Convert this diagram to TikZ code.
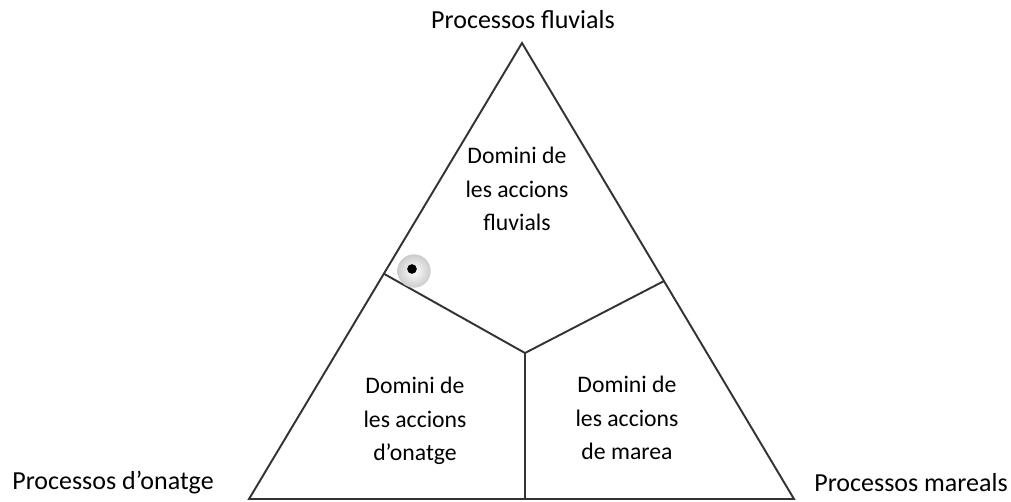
\documentclass[tikz,border=0pt]{standalone}
\usepackage{fontspec}
\setmainfont{Carlito}
\usepackage{tikz}
\usetikzlibrary{calc,positioning}

\begin{document}
\begin{tikzpicture}[x=0.02cm,y=-0.02cm,
  edge/.style={draw=black!80,line width=1.1pt},
  lbl/.style={font=\fontsize{14.8}{18.7}\selectfont,align=center,inner sep=0pt},
  dom/.style={font=\fontsize{13.5}{19}\selectfont,align=center,inner sep=0pt}]
\useasboundingbox (0,0) rectangle (1011,501);
\coordinate (top) at (522,43);
\coordinate (left) at (249,499);
\coordinate (right) at (794,499);
\coordinate (mid) at (525,353);
\coordinate (jl) at ($(top)!0.506!(left)$);
\coordinate (jr) at ($(top)!0.522!(right)$);
\coordinate (jb) at (525,499);
\draw[edge] (top) -- (left) -- (right) -- cycle;
\draw[edge] (jl) -- (mid) -- (jr);
\draw[edge] (mid) -- (jb);
% etiquetes
\node[lbl] (pfluv) at (523,20) {Processos fluvials};
\node[lbl] (pona) at (113,483) {Processos d’onatge};
\node[lbl] (pmar) at (911,483) {Processos mareals};
\node[dom] (dfluv) at (517,189) {Domini de\\les accions\\fluvials};
\node[dom] (dona) at (415,421) {Domini de\\les accions\\d’onatge};
\node[dom] (dmar) at (627,418) {Domini de\\les accions\\de marea};
% punt
\node[circle,inner color=white,outer color=black!20,minimum size=19pt,inner sep=0pt] (halo) at (414,271) {};
\node[circle,fill=black,minimum size=5.5pt,inner sep=0pt] (dot) at (412,269) {};
\end{tikzpicture}
\end{document}
